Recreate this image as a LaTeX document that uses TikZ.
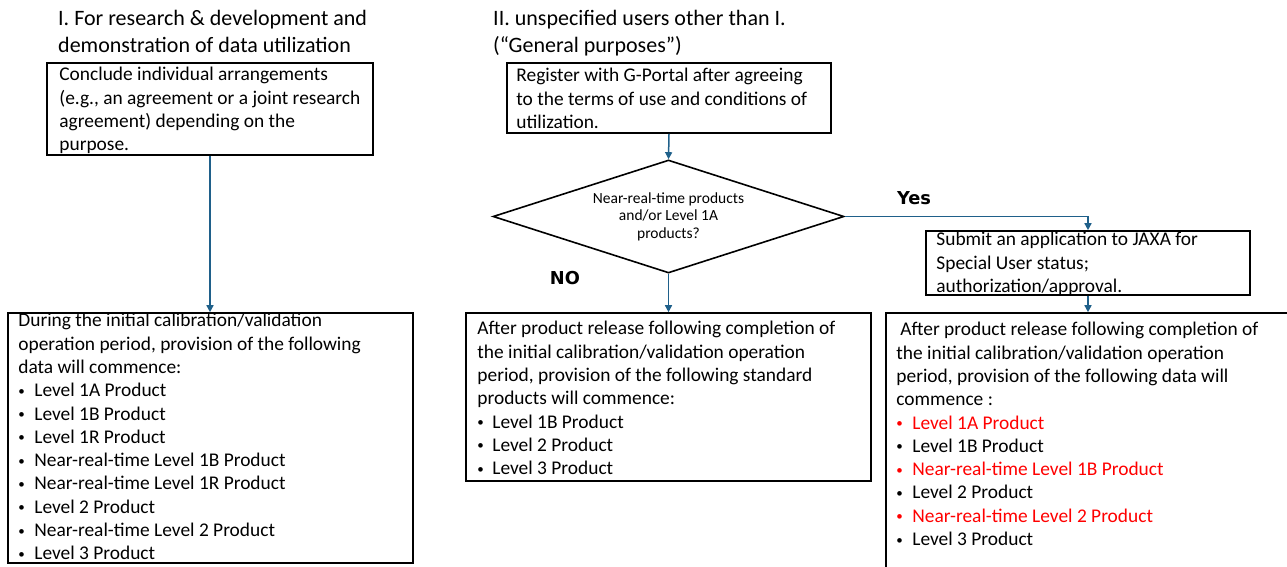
\documentclass[tikz,border=0pt]{standalone}
\usepackage{fontspec}
\setmainfont{Carlito}
\newfontfamily\answerfont{DejaVu Sans}
\usetikzlibrary{shapes.geometric,arrows.meta}
\definecolor{flowblue}{RGB}{31,96,138}
\newcommand{\itm}[2][16pt]{\makebox[#1][l]{\raisebox{1.5pt}{\fontsize{13}{13}\selectfont\textbullet}}#2}

\begin{document}
\begin{tikzpicture}[x=1pt,y=-1pt]
\tikzstyle{box}=[draw,line width=1.6pt,inner sep=0pt];
\tikzstyle{txt}=[anchor=north west,inner sep=0pt,align=left,font=\fontsize{19.4}{23.3}\selectfont];
\tikzstyle{head}=[anchor=north west,inner sep=0pt,align=left,font=\fontsize{22}{27}\selectfont];
\tikzstyle{flow}=[draw=flowblue,line width=1.5pt,-{Triangle[length=7pt,width=7pt]}];
\tikzstyle{answer}=[font=\fontsize{17.8}{20}\answerfont\bfseries];
\useasboundingbox (0,0) rectangle (1287,567);

% headings
\node[head] (hone) at (58,10.3) {I. For research \& development and\\demonstration of data utilization};
\node[head] (htwo) at (493,10.3) {II. unspecified users other than I.\\(“General purposes”)};

% left column
\node[box,minimum width=326pt,minimum height=92pt] (req) at (210,109) {};
\node[txt] (reqtxt) at ([xshift=13pt,yshift=-5pt]req.north west) {Conclude individual arrangements\\(e.g., an agreement or a joint research\\agreement) depending on the\\purpose.};
\node[box,minimum width=405pt,minimum height=250pt] (lst) at (210.5,438) {};
\node[txt] (lsttxt) at ([xshift=11pt,yshift=-1pt]lst.north west) {During the initial calibration/validation\\operation period, provision of the following\\data will commence:\\
\itm{Level 1A Product}\\\itm{Level 1B Product}\\\itm{Level 1R Product}\\
\itm{Near-real-time Level 1B Product}\\\itm{Near-real-time Level 1R Product}\\
\itm{Level 2 Product}\\\itm{Near-real-time Level 2 Product}\\\itm{Level 3 Product}};

% general purposes
\node[box,minimum width=324pt,minimum height=70pt] (reg) at (669,98) {};
\node[txt] (regtxt) at ([xshift=10pt,yshift=-6pt]reg.north west) {Register with G-Portal after agreeing\\to the terms of use and conditions of\\utilization.};
\node[draw,line width=1.6pt,shape=diamond,aspect=3.1,minimum width=351pt,minimum height=113pt,inner sep=0pt,align=center,font=\fontsize{15.5}{17.5}\selectfont] (ask) at (668.5,216.5) {Near-real-time products\\and/or Level 1A\\products?};
\node[box,minimum width=405pt,minimum height=168pt] (std) at (668.5,397) {};
\node[txt] (stdtxt) at ([xshift=12pt,yshift=-9pt]std.north west) {After product release following completion of\\the initial calibration/validation operation\\period, provision of the following standard\\products will commence:\\
\itm[15pt]{Level 1B Product}\\\itm[15pt]{Level 2 Product}\\\itm[15pt]{Level 3 Product}};

% special users
\node[box,minimum width=324pt,minimum height=64pt] (spc) at (1088,263) {};
\node[txt] (spctxt) at ([xshift=11pt,yshift=-2pt]spc.north west) {Submit an application to JAXA for\\Special User status;\\authorization/approval.};
\node[box,minimum width=404pt,minimum height=262pt] (all) at (1088,444) {};
\node[txt] (alltxt) at ([xshift=11pt,yshift=-10pt]all.north west) {\hspace{4pt}After product release following completion of\\the initial calibration/validation operation\\period, provision of the following data will\\commence :\\
\textcolor{red}{\itm{Level 1A Product}}\\\itm{Level 1B Product}\\
\textcolor{red}{\itm{Near-real-time Level 1B Product}}\\\itm{Level 2 Product}\\
\textcolor{red}{\itm{Near-real-time Level 2 Product}}\\\itm{Level 3 Product}};

\node[answer] (yes) at (914,198) {Yes};
\node[answer] (no) at (565,278) {NO};

% connectors
\draw[flow] (req.south) -- (req.south |- lst.north);
\draw[flow] (reg.south) -- (ask.north);
\draw[flow] (ask.south) -- (std.north);
\draw[flow] (ask.east) -| (spc.north);
\draw[flow] (spc.south) -- (all.north);
\end{tikzpicture}
\end{document}
